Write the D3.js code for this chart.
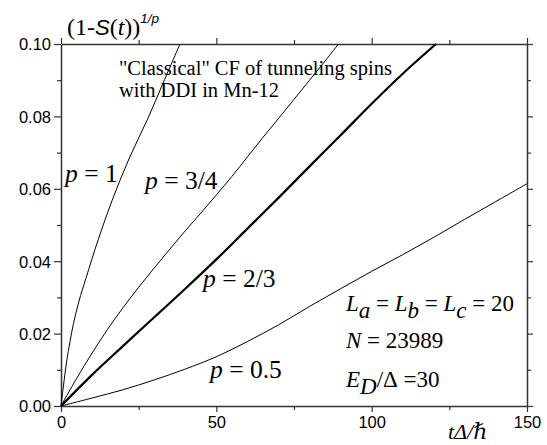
<!DOCTYPE html>
<html>
<head>
<meta charset="utf-8">
<script src="https://cdn.jsdelivr.net/npm/d3@7"></script>
<style>
  body { margin: 0; background: #fff; }
  svg { display: block; }
  .tick text { font-family: "Liberation Sans", Arial, sans-serif; font-size: 16.5px; fill: #000; }
</style>
</head>
<body>
<svg id="chart"></svg>
<script>
// curve data: t (in units of hbar/Delta) and (1-S(t))^(1/p)
const tP1 = [0, 0.75, 1.8, 2.9, 4, 5.8, 8, 12, 16.5, 22, 28, 33, 38.3];
const vP1 = [0, 0.0053, 0.0122, 0.0178, 0.0227, 0.029, 0.0352, 0.046, 0.0569, 0.0685, 0.0795, 0.0895, 0.1];

const tP34 = [0, 5, 10, 15, 20, 25, 30, 35, 40, 45, 50, 55, 60, 65, 70, 75, 80, 85, 89.3];
const vP34 = [0, 0.0076, 0.0146, 0.0212, 0.0272, 0.0328, 0.0381, 0.0433, 0.0484, 0.0533, 0.0583, 0.0634, 0.0688, 0.0742, 0.0794, 0.0847, 0.09, 0.0953, 0.1];

const tP23 = [0, 10, 20, 30, 40, 50, 60, 70, 80, 90, 100, 110, 120.7];
const vP23 = [0, 0.0086, 0.0166, 0.0245, 0.0324, 0.0405, 0.049, 0.0575, 0.0662, 0.0748, 0.0835, 0.0918, 0.1];

const tP05 = [0, 10, 20, 30, 40, 50, 60, 70, 80, 90, 100, 110, 120, 130, 140, 150];
const vP05 = [0, 0.0022, 0.0045, 0.0072, 0.0102, 0.0136, 0.0178, 0.0224, 0.0275, 0.0324, 0.0372, 0.0418, 0.0466, 0.0516, 0.0565, 0.0614];

const xTicks = [0, 50, 100, 150];
const yTicks = [0, 0.02, 0.04, 0.06, 0.08, 0.10];

const series = [
  { t: tP1, v: vP1, w: 1 },
  { t: tP34, v: vP34, w: 1 },
  { t: tP23, v: vP23, w: 2.2 },
  { t: tP05, v: vP05, w: 1 }
];

const width = 547, height = 445;
const margin = { top: 44, right: 20, bottom: 39, left: 61 };
const serif = "'Liberation Serif', 'Times New Roman', 'DejaVu Serif', serif";
const sans = "'Liberation Sans', Arial, sans-serif";
const sp = "\u00A0"; // spaces kept inside tspans

const svg = d3.select("#chart")
  .attr("width", width)
  .attr("height", height);

const x = d3.scaleLinear().domain([0, 150]).range([margin.left, width - margin.right]);
const y = d3.scaleLinear().domain([0, 0.1]).range([height - margin.bottom, margin.top]);

const axisColor = "#333";
const minorX = [25, 75, 125];
const minorY = [0.01, 0.03, 0.05, 0.07, 0.09];

function styleAxis(g) {
  g.select(".domain").attr("stroke", axisColor).attr("stroke-width", 1.5);
  g.selectAll(".tick line").attr("stroke", axisColor).attr("stroke-width", 1.2);
}

// major axes with labels
svg.append("g")
  .attr("transform", `translate(0,${y(0)})`)
  .call(d3.axisBottom(x).tickValues(xTicks).tickSize(6).tickSizeOuter(0).tickPadding(4).tickFormat(d3.format("d")))
  .call(styleAxis);

svg.append("g")
  .attr("transform", `translate(${x(0)},0)`)
  .call(d3.axisLeft(y).tickValues(yTicks).tickSize(7).tickSizeOuter(0).tickPadding(3).tickFormat(d3.format(".2f")))
  .call(styleAxis)
  .selectAll(".tick text").attr("dy", "0.36em");

// mirrored axes without labels
svg.append("g")
  .attr("transform", `translate(0,${y(0.1)})`)
  .call(d3.axisTop(x).tickValues(xTicks).tickSize(6).tickSizeOuter(0).tickFormat(""))
  .call(styleAxis);

svg.append("g")
  .attr("transform", `translate(${x(150)},0)`)
  .call(d3.axisRight(y).tickValues(yTicks).tickSize(6).tickSizeOuter(0).tickFormat(""))
  .call(styleAxis);

// minor ticks
[
  [d3.axisBottom(x), y(0), minorX, true],
  [d3.axisTop(x), y(0.1), minorX, true],
  [d3.axisLeft(y), x(0), minorY, false],
  [d3.axisRight(y), x(150), minorY, false]
].forEach(([ax, pos, vals, horiz]) => {
  svg.append("g")
    .attr("transform", horiz ? `translate(0,${pos})` : `translate(${pos},0)`)
    .call(ax.tickValues(vals).tickSize(4).tickFormat(""))
    .call(g => g.select(".domain").remove())
    .call(styleAxis);
});

// curves
const line = d3.line()
  .x(d => x(d[0]))
  .y(d => y(d[1]))
  .curve(d3.curveCatmullRom.alpha(0.5));

svg.append("g")
  .selectAll("path")
  .data(series)
  .join("path")
  .attr("fill", "none")
  .attr("stroke", "#000")
  .attr("stroke-width", d => d.w)
  .attr("stroke-linejoin", "round")
  .attr("d", d => line(d.t.map((t, i) => [t, d.v[i]])));

// y label (1-S(t))^{1/p}
const yl = svg.append("text")
  .attr("font-family", serif)
  .attr("x", 67)
  .attr("y", 35)
  .attr("font-size", 24);
yl.append("tspan").text("(1-");
yl.append("tspan").attr("font-family", sans).attr("font-style", "italic").attr("font-size", 22).text("S");
yl.append("tspan").text("(");
yl.append("tspan").attr("font-style", "italic").text("t");
yl.append("tspan").text("))");
yl.append("tspan").attr("font-family", sans).attr("font-style", "italic")
  .attr("font-size", 13.5).attr("dy", -12).text("1/p");

// x label
svg.append("text")
  .attr("font-family", serif)
  .attr("x", 448)
  .attr("y", 439)
  .attr("font-size", 22)
  .attr("font-style", "italic")
  .text("t\u0394/\u210F");

// title
const title = svg.append("text")
  .attr("font-family", serif)
  .attr("font-size", 20.5);
title.append("tspan").attr("x", 119).attr("y", 75).text("\"Classical\" CF of tunneling spins");
title.append("tspan").attr("x", 119).attr("y", 97).text("with DDI in Mn-12");

// curve labels
const curveLabels = [
  { label: "1", x: 65, y: 182 },
  { label: "3/4", x: 145, y: 189 },
  { label: "2/3", x: 203, y: 287 },
  { label: "0.5", x: 210, y: 378 }
];
curveLabels.forEach(c => {
  const tx = svg.append("text").attr("font-family", serif).attr("font-size", 25.5).attr("x", c.x).attr("y", c.y);
  tx.append("tspan").attr("font-style", "italic").text("p");
  tx.append("tspan").text(sp + "=" + sp + c.label);
});

// parameters
const fs = 23;
const p1 = svg.append("text").attr("font-family", serif).attr("font-size", fs).attr("x", 346).attr("y", 311);
["a", "b", "c"].forEach((s, i) => {
  p1.append("tspan").attr("font-style", "italic").text("L");
  p1.append("tspan").attr("font-style", "italic").attr("dy", 7).text(s);
  p1.append("tspan").attr("dy", -7).text(sp + "=" + sp + (i < 2 ? "" : "20"));
});

const p2 = svg.append("text").attr("font-family", serif).attr("font-size", fs).attr("x", 346).attr("y", 348);
p2.append("tspan").attr("font-style", "italic").text("N");
p2.append("tspan").text(sp + "=" + sp + "23989");

const p3 = svg.append("text").attr("font-family", serif).attr("font-size", fs).attr("x", 346).attr("y", 387);
p3.append("tspan").attr("font-style", "italic").text("E");
p3.append("tspan").attr("font-style", "italic").attr("dy", 7).text("D");
p3.append("tspan").attr("dy", -7).text("/\u0394" + sp + "=30");
</script>
</body>
</html>
